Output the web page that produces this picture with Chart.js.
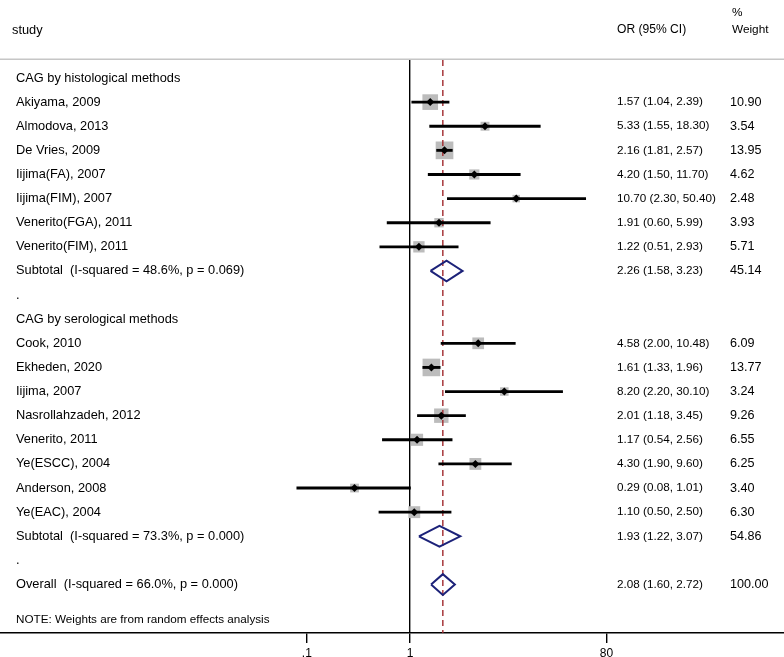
<!DOCTYPE html>
<html>
<head>
<meta charset="utf-8">
<script src="https://cdn.jsdelivr.net/npm/chart.js@4.4.1/dist/chart.umd.min.js"></script>
<style>
  html, body { margin: 0; padding: 0; background: #fff; }
</style>
</head>
<body>
<canvas id="forest" width="784" height="657"></canvas>
<script>
const groupTitles = ["CAG by histological methods", "CAG by serological methods"];

const histStudies = ["Akiyama, 2009", "Almodova, 2013", "De Vries, 2009", "Iijima(FA), 2007",
  "Iijima(FIM), 2007", "Venerito(FGA), 2011", "Venerito(FIM), 2011"];
const histOR = [1.57, 5.33, 2.16, 4.20, 10.70, 1.91, 1.22];
const histLo = [1.04, 1.55, 1.81, 1.50, 2.30, 0.60, 0.51];
const histHi = [2.39, 18.30, 2.57, 11.70, 50.40, 5.99, 2.93];
const histWeight = [10.90, 3.54, 13.95, 4.62, 2.48, 3.93, 5.71];

const seroStudies = ["Cook, 2010", "Ekheden, 2020", "Iijima, 2007", "Nasrollahzadeh, 2012",
  "Venerito, 2011", "Ye(ESCC), 2004", "Anderson, 2008", "Ye(EAC), 2004"];
const seroOR = [4.58, 1.61, 8.20, 2.01, 1.17, 4.30, 0.29, 1.10];
const seroLo = [2.00, 1.33, 2.20, 1.18, 0.54, 1.90, 0.08, 0.50];
const seroHi = [10.48, 1.96, 30.10, 3.45, 2.56, 9.60, 1.01, 2.50];
const seroWeight = [6.09, 13.77, 3.24, 9.26, 6.55, 6.25, 3.40, 6.30];

const subtotalOR = [2.26, 1.93];
const subtotalLo = [1.58, 1.22];
const subtotalHi = [3.23, 3.07];
const subtotalWeight = [45.14, 54.86];
const subtotalI2 = [48.6, 73.3];
const subtotalP = [0.069, 0.000];

const overallOR = 2.08;
const overallLo = 1.60;
const overallHi = 2.72;
const overallWeight = 100.00;
const overallI2 = 66.0;
const overallP = 0.000;

const xTicks = [0.1, 1, 80];

// y range (row units) and x range chosen so the plot lines up with the table text
const Y_MIN = -0.746, Y_MAX = 23.01;
const X_MIN = Math.pow(10, -3.973), X_MAX = Math.pow(10, 3.624);
const FONT = '"Liberation Sans", Arial, Helvetica, sans-serif';

// build the row layout: header, studies, subtotal, spacer ... then overall
const groups = [
  { names: histStudies, or: histOR, lo: histLo, hi: histHi, w: histWeight },
  { names: seroStudies, or: seroOR, lo: seroLo, hi: seroHi, w: seroWeight },
];
const rows = [];
groups.forEach((g, gi) => {
  rows.push({ label: groupTitles[gi], kind: "head" });
  g.names.forEach((n, i) => {
    rows.push({ label: n, kind: "study", or: g.or[i], lo: g.lo[i], hi: g.hi[i], w: g.w[i] });
  });
  rows.push({
    label: `Subtotal  (I-squared = ${subtotalI2[gi].toFixed(1)}%, p = ${subtotalP[gi].toFixed(3)})`,
    kind: "pooled", or: subtotalOR[gi], lo: subtotalLo[gi], hi: subtotalHi[gi], w: subtotalWeight[gi],
  });
  rows.push({ label: ".", kind: "gap" });
});
rows.push({
  label: `Overall  (I-squared = ${overallI2.toFixed(1)}%, p = ${overallP.toFixed(3)})`,
  kind: "pooled", or: overallOR, lo: overallLo, hi: overallHi, w: overallWeight,
});
rows.forEach((r, i) => { r.row = i; });

const studyRows = rows.filter(r => r.kind === "study");
const pooledRows = rows.filter(r => r.kind === "pooled");

const diamondSets = pooledRows.map(r => ({
  data: [
    { x: r.lo, y: r.row },
    { x: r.or, y: r.row - 0.43 },
    { x: r.hi, y: r.row },
    { x: r.or, y: r.row + 0.43 },
    { x: r.lo, y: r.row },
  ],
  showLine: true,
  borderColor: "#1c2279",
  borderWidth: 2,
  borderJoinStyle: "miter",
  pointRadius: 0,
  order: 0,
}));

const datasets = [
  ...diamondSets,
  {
    // point estimates
    data: studyRows.map(r => ({ x: r.or, y: r.row })),
    pointStyle: "rectRot",
    pointRadius: 4,
    backgroundColor: "#000",
    borderWidth: 0,
    order: 1,
  },
  {
    // confidence intervals
    type: "bar",
    indexAxis: "y",
    data: studyRows.map(r => ({ y: r.row, x: [r.lo, r.hi] })),
    backgroundColor: "#000",
    barThickness: 2.2,
    borderWidth: 0,
    order: 2,
  },
  {
    // overall estimate reference
    data: [{ x: overallOR, y: Y_MIN }, { x: overallOR, y: Y_MAX }],
    showLine: true,
    borderColor: "#a02a2e",
    borderWidth: 1.4,
    borderDash: [6, 4],
    pointRadius: 0,
    order: 3,
  },
  {
    // weight boxes
    data: studyRows.map(r => ({ x: r.or, y: r.row })),
    pointStyle: "rect",
    pointRadius: ctx => 3.35 * Math.sqrt(studyRows[ctx.dataIndex].w),
    backgroundColor: "#bcbcbc",
    borderWidth: 0,
    order: 4,
  },
];

const tablePlugin = {
  id: "forestTable",
  afterDraw(chart) {
    const { ctx, chartArea, scales: { y } } = chart;
    ctx.save();
    ctx.strokeStyle = "#c6c6c6";
    ctx.lineWidth = 1.5;
    ctx.beginPath();
    ctx.moveTo(0, chartArea.top - 0.8);
    ctx.lineTo(chart.width, chartArea.top - 0.8);
    ctx.stroke();

    ctx.fillStyle = "#000";
    ctx.textBaseline = "middle";
    ctx.font = `12.8px ${FONT}`;
    ctx.fillText("study", 12, 30);
    ctx.font = `12.1px ${FONT}`;
    ctx.fillText("OR (95% CI)", 617, 30);
    ctx.font = `11.8px ${FONT}`;
    ctx.fillText("%", 732, 13);
    ctx.fillText("Weight", 732, 30);

    rows.forEach(r => {
      const py = y.getPixelForValue(r.row);
      ctx.font = `12.8px ${FONT}`;
      ctx.fillText(r.label, 16, py);
      if (r.or != null) {
        ctx.font = `11.7px ${FONT}`;
        ctx.fillText(`${r.or.toFixed(2)} (${r.lo.toFixed(2)}, ${r.hi.toFixed(2)})`, 617, py);
        ctx.font = `12.6px ${FONT}`;
        ctx.fillText(r.w.toFixed(2), 730, py);
      }
    });

    ctx.font = `11.7px ${FONT}`;
    ctx.fillText("NOTE: Weights are from random effects analysis", 16, chartArea.bottom - 13);
    ctx.restore();
  },
};

new Chart(document.getElementById("forest"), {
  type: "scatter",
  data: { datasets },
  options: {
    responsive: false,
    animation: false,
    layout: { autoPadding: false, padding: { top: 60, left: 0, right: 0, bottom: 0 } },
    plugins: { legend: { display: false }, tooltip: { enabled: false } },
    scales: {
      x: {
        type: "logarithmic",
        min: X_MIN,
        max: X_MAX,
        bounds: "data",
        offset: false,
        afterBuildTicks: scale => { scale.ticks = xTicks.map(v => ({ value: v })); },
        afterFit: scale => { scale.height = 24; },
        ticks: {
          color: "#000",
          padding: 5,
          maxRotation: 0,
          autoSkip: false,
          font: { family: FONT, size: 12, lineHeight: 1 },
          callback: v => (v < 1 ? String(v).replace(/^0/, "") : String(v)),
        },
        grid: {
          offset: false,
          color: ctx => (ctx.tick && ctx.tick.value === 1 ? "#000" : "rgba(0,0,0,0)"),
          tickColor: "#000",
          lineWidth: 1.4,
          tickLength: 10,
        },
        border: { display: true, color: "#000", width: 1.4 },
      },
      y: {
        type: "linear",
        reverse: true,
        min: Y_MIN,
        max: Y_MAX,
        offset: false,
        grid: { offset: false },
        display: false,
      },
    },
  },
  plugins: [tablePlugin],
});
</script>
</body>
</html>
